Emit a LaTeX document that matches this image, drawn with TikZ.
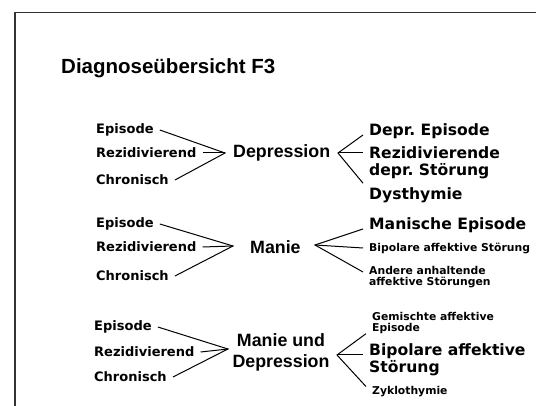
\documentclass[tikz,border=0pt]{standalone}
\usepackage{fontspec}
\setmainfont{Liberation Sans}
\newfontfamily\itemfont{DejaVu Sans}
\usetikzlibrary{positioning}
\frenchspacing
\tikzstyle{heading} = [anchor=west, inner sep=0pt, font=\fontsize{20.5}{24}\selectfont\bfseries]
\tikzstyle{kind} = [anchor=west, inner xsep=6pt, inner ysep=0pt, font=\itemfont\fontsize{13}{15}\selectfont\bfseries]
\tikzstyle{diag} = [inner sep=0pt, align=center, font=\fontsize{17.8}{21}\selectfont\bfseries]
\tikzstyle{bigtxt} = [anchor=west, align=left, inner xsep=6pt, inner ysep=0pt, font=\itemfont\fontsize{15.6}{17}\selectfont\bfseries]
\tikzstyle{smalltxt} = [anchor=west, align=left, inner xsep=6pt, inner ysep=0pt, font=\itemfont\fontsize{10.8}{10.5}\selectfont\bfseries]
\tikzstyle{fan} = [line width=1pt]
\tikzstyle{frame} = [line width=1.6pt, draw=black!80]

\begin{document}
\begin{tikzpicture}[x=1pt, y=-1pt]
            \useasboundingbox (0,0) rectangle (536,406);
            \draw [frame] (15,406) -- (15,12.5) -- (536,12.5);
            \node (title) [heading] at (61,68) {Diagnoseübersicht F3};

            % Depression
            \node (ep1) [kind] at (90,130) {Episode};
            \node (rez1) [kind] at (90,153) {Rezidivierend};
            \node (chr1) [kind] at (90,180) {Chronisch};
            \coordinate (inA) at (225,153);
            \node (dep) [diag, anchor=west] at (233,153) {Depression};
            \coordinate (outA) at (338,153);
            \node (de1) [bigtxt] at (363,131) {Depr. Episode};
            \node (rd1) [bigtxt, anchor=north west] at (363,146) {Rezidivierende\\depr. Störung};
            \node (dys1) [bigtxt] at (363,195) {Dysthymie};

            \draw [fan] (ep1.east) -- (inA) -- (chr1.east);
            \draw [fan] (rez1.east) -- (inA);
            \draw [fan] ([yshift=-4pt]de1.west) -- (outA) -- ([yshift=4pt]dys1.north west);
            \draw [fan] (outA) -- (rd1.west |- outA);

            % Manie
            \node (ep2) [kind] at (90,224) {Episode};
            \node (rez2) [kind] at (90,247) {Rezidivierend};
            \node (chr2) [kind] at (90,276) {Chronisch};
            \coordinate (inB) at (233,246);
            \node (man) [diag, anchor=west] at (250,247) {Manie};
            \coordinate (outB) at (315,245);
            \node (me2) [bigtxt] at (363,225) {Manische Episode};
            \node (bip2) [smalltxt] at (363,248) {Bipolare affektive Störung};
            \node (and2) [smalltxt] at (363,277) {Andere anhaltende\\affektive Störungen};

            \draw [fan] (ep2.east) -- (inB) -- (chr2.east);
            \draw [fan] (rez2.east) -- (inB);
            \draw [fan] ([yshift=-4pt]me2.west) -- (outB) -- ([yshift=5pt]and2.west);
            \draw [fan] (outB) -- (bip2.west);

            % Manie und Depression
            \node (ep3) [kind] at (88,327) {Episode};
            \node (rez3) [kind] at (88,352) {Rezidivierend};
            \node (chr3) [kind] at (88,377) {Chronisch};
            \coordinate (inC) at (228,349);
            \node (mud) [diag] at (281,352) {Manie und\\Depression};
            \coordinate (outC) at (337,355);
            \node (gem3) [smalltxt] at (366,323) {Gemischte affektive\\Episode};
            \node (bip3) [bigtxt] at (363,360) {Bipolare affektive\\Störung};
            \node (zyk3) [smalltxt] at (366,392) {Zyklothymie};

            \draw [fan] (ep3.east) -- (inC) -- (chr3.east);
            \draw [fan] (rez3.east) -- (inC);
            \draw [fan] (gem3.south west) -- (outC) -- (zyk3.north west);
            \draw [fan] (outC) -- (bip3.west |- outC);
\end{tikzpicture}
\end{document}
